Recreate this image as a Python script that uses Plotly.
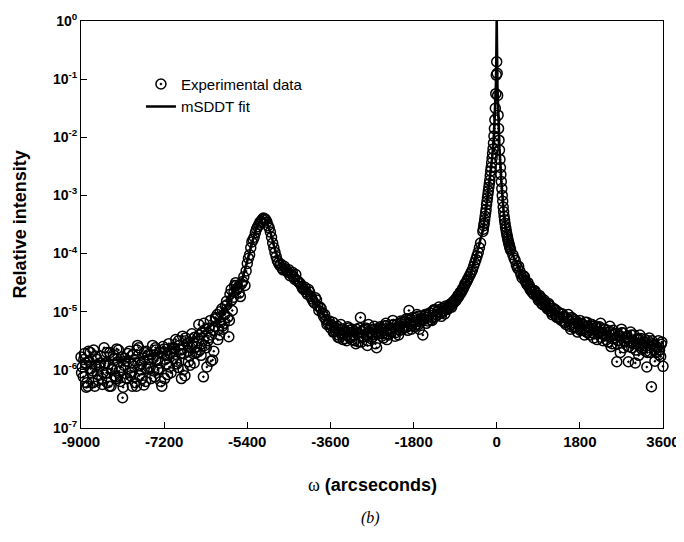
import plotly.graph_objects as go

# ---------------- data ----------------
# experimental omega positions (arcseconds), first interleaved set
omega_exp_a = [
    -9000, -8950, -8900, -8850, -8800, -8750, -8700, -8650, -8600, -8550,
    -8500, -8450, -8400, -8350, -8300, -8250, -8200, -8150, -8100, -8050,
    -8000, -7950, -7900, -7850, -7800, -7750, -7700, -7650, -7600, -7550,
    -7500, -7450, -7400, -7350, -7300, -7250, -7200, -7150, -7100, -7050,
    -7000, -6950, -6900, -6850, -6800, -6750, -6700, -6650, -6600, -6550,
    -6500, -6450, -6400, -6350, -6300, -6250, -6200, -6150, -6100, -6050,
    -6000, -5950, -5900, -5850, -5800, -5750, -5700, -5650, -5600, -5550,
    -5500, -5450, -5400, -5350, -5300, -5250, -5200, -5150, -5100, -5050,
    -5000, -4950, -4900, -4850, -4800, -4750, -4700, -4650, -4600, -4550,
    -4500, -4450, -4400, -4350, -4300, -4250, -4200, -4150, -4100, -4050,
    -4000, -3950, -3900, -3850, -3800, -3750, -3700, -3650, -3600, -3550,
    -3500, -3450, -3400, -3350, -3300, -3250, -3200, -3150, -3100, -3050,
    -3000, -2950, -2900, -2850, -2800, -2750, -2700, -2650, -2600, -2550,
    -2500, -2450, -2400, -2350, -2300, -2250, -2200, -2150, -2100, -2050,
    -2000, -1950, -1900, -1850, -1800, -1750, -1700, -1650, -1600, -1550,
    -1500, -1450, -1400, -1350, -1300, -1250, -1200, -1150, -1100, -1050,
    -1000, -950, -900, -850, -800, -750, -700, -650, -600, -550,
    -500, -450, -400, -350,
    -300, -290, -280, -270, -260, -250, -240, -230, -220, -210,
    -200, -190, -180, -170, -160, -150, -140, -130, -120, -110,
    -100, -90, -80, -70, -60, -50, -40, -30, -20, -10,
    0,
    10, 20, 30, 40, 50, 60, 70, 80, 90, 100,
    110, 120, 130, 140, 150, 160, 170, 180, 190, 200,
    210, 220, 230, 240, 250, 260, 270, 280, 290, 300,
    350, 400, 450, 500, 550, 600, 650, 700, 750, 800,
    850, 900, 950, 1000, 1050, 1100, 1150, 1200, 1250, 1300,
    1350, 1400, 1450, 1500, 1550, 1600, 1650, 1700, 1750, 1800,
    1850, 1900, 1950, 2000, 2050, 2100, 2150, 2200, 2250, 2300,
    2350, 2400, 2450, 2500, 2550, 2600, 2650, 2700, 2750, 2800,
    2850, 2900, 2950, 3000, 3050, 3100, 3150, 3200, 3250, 3300,
    3350, 3400, 3450, 3500, 3550, 3600,
]

# experimental relative intensity (log10 values)
log10_intensity_exp_a = [
    -5.78, -6.12, -5.88, -6.28, -5.70, -6.02, -6.28, -5.82, -5.95, -6.15,
    -5.62, -6.05, -5.90, -6.28, -5.74, -6.12, -5.86, -6.20, -6.48, -5.80,
    -6.15, -5.68, -6.04, -5.94, -6.28, -5.62, -6.00, -5.80, -6.20, -5.74,
    -5.95, -5.58, -6.12, -5.84, -5.70, -6.28, -5.64, -5.90, -5.55, -6.05,
    -5.80, -5.48, -5.96, -5.66, -5.42, -6.10, -5.55, -5.76, -5.38, -5.88,
    -5.60, -5.22, -5.75, -6.12, -5.30, -5.50, -5.15, -5.83, -5.25, -5.05,
    -5.40, -4.95, -5.20, -4.82, -5.43, -4.62, -4.75, -4.50, -4.58, -4.74,
    -4.48, -4.55, -4.17, -4.02, -3.80, -3.72, -3.58, -3.50, -3.44, -3.39,
    -3.42, -3.52, -3.63, -3.82, -3.98, -4.12, -4.20, -4.25, -4.22, -4.30,
    -4.28, -4.35, -4.40, -4.36, -4.48, -4.52, -4.60, -4.58, -4.70, -4.66,
    -4.78, -4.85, -4.80, -4.98, -4.95, -5.08, -5.14, -5.20, -5.28, -5.18,
    -5.32, -5.25, -5.45, -5.30, -5.38, -5.50, -5.28, -5.42, -5.34, -5.55,
    -5.36, -5.10, -5.44, -5.30, -5.58, -5.35, -5.40, -5.25, -5.62, -5.33,
    -5.30, -5.45, -5.20, -5.38, -5.28, -5.15, -5.42, -5.22, -5.32, -5.18,
    -5.25, -5.12, -4.98, -5.30, -5.15, -5.22, -5.08, -5.18, -5.40, -5.05,
    -5.10, -5.02, -5.15, -4.96, -5.05, -4.92, -5.08, -4.98, -4.90, -4.95,
    -4.90, -4.86, -4.82, -4.76, -4.70, -4.64, -4.56, -4.48, -4.40, -4.32,
    -4.22, -4.10, -3.98, -3.82,
    -3.62, -3.58, -3.52, -3.48, -3.42, -3.36, -3.30, -3.24, -3.16, -3.10,
    -3.04, -2.98, -2.92, -2.86, -2.80, -2.74, -2.66, -2.58, -2.52, -2.44,
    -2.36, -2.28, -2.20, -2.10, -1.98, -1.85, -1.70, -1.50, -1.25, -0.93,
    -0.70,
    -0.90, -1.28, -1.62, -1.85, -2.05, -2.22, -2.38, -2.52, -2.64, -2.76,
    -2.88, -3.00, -3.10, -3.20, -3.28, -3.36, -3.42, -3.48, -3.54, -3.58,
    -3.63, -3.67, -3.71, -3.75, -3.79, -3.82, -3.85, -3.88, -3.91, -3.94,
    -4.02, -4.12, -4.25, -4.30, -4.42, -4.40, -4.52, -4.58, -4.62, -4.70,
    -4.68, -4.80, -4.76, -4.88, -4.84, -4.95, -4.90, -5.05, -4.98, -5.10,
    -5.02, -5.15, -5.08, -5.22, -5.05, -5.30, -5.12, -5.20, -5.35, -5.15,
    -5.28, -5.40, -5.18, -5.32, -5.22, -5.45, -5.28, -5.36, -5.20, -5.50,
    -5.30, -5.42, -5.25, -5.55, -5.38, -5.86, -5.40, -5.30, -5.62, -5.45,
    -5.86, -5.35, -5.55, -5.88, -5.48, -5.40, -5.65, -5.52, -5.95, -5.45,
    -6.29, -5.58, -5.70, -5.50, -5.77, -5.94,
]

# second interleaved set of experimental points (wings)
omega_exp_b = [
    -8975, -8925, -8875, -8825, -8775, -8725, -8675, -8625, -8575, -8525,
    -8475, -8425, -8375, -8325, -8275, -8225, -8175, -8125, -8075, -8025,
    -7975, -7925, -7875, -7825, -7775, -7725, -7675, -7625, -7575, -7525,
    -7475, -7425, -7375, -7325, -7275, -7225, -7175, -7125, -7075, -7025,
    -6975, -6925, -6875, -6825, -6775, -6725, -6675, -6625, -6575, -6525,
    -6475, -6425, -6375, -6325, -6275, -6225, -6175, -6125, -6075, -6025,
    -5975, -5925, -5875, -5825, -5775, -5725, -5675, -5625, -5575, -5525,
    -5475, -5425, -5375, -5325, -5275, -5225, -5175, -5125, -5075, -5025,
    -4975, -4925, -4875, -4825, -4775, -4725, -4675, -4625, -4575, -4525,
    -4475, -4425, -4375, -4325, -4275, -4225, -4175, -4125, -4075, -4025,
    -3975, -3925, -3875, -3825, -3775, -3725, -3675, -3625, -3575, -3525,
    -3475, -3425, -3375, -3325, -3275, -3225, -3175, -3125, -3075, -3025,
    -2975, -2925, -2875, -2825, -2775, -2725, -2675, -2625, -2575, -2525,
    -2475, -2425, -2375, -2325, -2275, -2225, -2175, -2125, -2075, -2025,
    -1975, -1925, -1875, -1825, -1775, -1725, -1675, -1625, -1575, -1525,
    -1475, -1425, -1375, -1325, -1275, -1225, -1175, -1125, -1075, -1025,
    -975, -925, -875, -825, -775, -725, -675, -625, -575, -525,
    -475, -425, -375,
    375, 425, 475, 525, 575, 625, 675, 725, 775, 825,
    875, 925, 975, 1025, 1075, 1125, 1175, 1225, 1275, 1325,
    1375, 1425, 1475, 1525, 1575, 1625, 1675, 1725, 1775, 1825,
    1875, 1925, 1975, 2025, 2075, 2125, 2175, 2225, 2275, 2325,
    2375, 2425, 2475, 2525, 2575, 2625, 2675, 2725, 2775, 2825,
    2875, 2925, 2975, 3025, 3075, 3125, 3175, 3225, 3275, 3325,
    3375, 3425, 3475, 3525, 3575,
]
log10_intensity_exp_b = [
    -5.95, -5.72, -6.22, -5.85, -6.05, -5.66, -5.92, -6.18, -5.76, -6.05,
    -5.88, -6.22, -5.70, -5.98, -6.10, -5.64, -6.02, -5.78, -5.92, -6.14,
    -5.86, -6.10, -5.74, -6.22, -5.58, -5.92, -6.15, -5.70, -5.98, -5.82,
    -5.74, -6.02, -5.66, -5.98, -6.20, -5.60, -5.82, -6.08, -5.72, -5.62,
    -5.64, -5.90, -5.58, -6.15, -5.72, -5.50, -5.86, -5.62, -5.52, -5.70,
    -5.45, -5.66, -5.35, -5.58, -5.95, -5.28, -5.40, -5.68, -5.12, -5.30,
    -5.18, -5.30, -4.90, -5.10, -4.70, -4.98, -4.55, -4.62, -4.68, -4.52,
    -4.40, -4.30, -4.08, -3.90, -3.76, -3.64, -3.54, -3.46, -3.41, -3.40,
    -3.46, -3.56, -3.72, -3.90, -4.05, -4.16, -4.18, -4.28, -4.26, -4.32,
    -4.38, -4.32, -4.44, -4.46, -4.50, -4.56, -4.62, -4.66, -4.62, -4.74,
    -4.82, -4.76, -4.90, -4.92, -5.02, -5.05, -5.22, -5.16, -5.24, -5.34,
    -5.28, -5.40, -5.22, -5.48, -5.33, -5.26, -5.45, -5.30, -5.50, -5.38,
    -5.28, -5.52, -5.32, -5.40, -5.22, -5.46, -5.30, -5.55, -5.38, -5.26,
    -5.38, -5.24, -5.48, -5.30, -5.35, -5.22, -5.30, -5.40, -5.16, -5.28,
    -5.18, -5.32, -5.20, -5.10, -5.26, -5.05, -5.30, -5.12, -5.08, -5.20,
    -5.05, -5.14, -4.98, -5.08, -5.00, -5.02, -4.94, -5.04, -4.96, -4.88,
    -4.92, -4.84, -4.80, -4.74, -4.68, -4.60, -4.52, -4.44, -4.36, -4.28,
    -4.16, -4.04, -3.90,
    -4.08, -4.20, -4.22, -4.36, -4.38, -4.48, -4.50, -4.62, -4.66, -4.64,
    -4.74, -4.72, -4.86, -4.80, -4.92, -4.86, -5.00, -4.94, -5.06, -5.00,
    -5.10, -5.04, -5.18, -5.12, -5.25, -5.10, -5.28, -5.16, -5.22, -5.30,
    -5.22, -5.34, -5.26, -5.40, -5.25, -5.32, -5.48, -5.26, -5.38, -5.30,
    -5.48, -5.35, -5.60, -5.32, -5.45, -5.50, -5.70, -5.36, -5.52, -5.42,
    -5.50, -5.62, -5.40, -5.55, -5.75, -5.46, -5.58, -5.68, -5.50, -5.70,
    -5.55, -5.85, -5.62, -5.66, -5.52,
]

# third interleaved set of experimental points (flat wings)
omega_exp_c = [
    -8988, -8938, -8888, -8838, -8788, -8738, -8688, -8638, -8588, -8538,
    -8488, -8438, -8388, -8338, -8288, -8238, -8188, -8138, -8088, -8038,
    -7988, -7938, -7888, -7838, -7788, -7738, -7688, -7638, -7588, -7538,
    -7488, -7438, -7388, -7338, -7288, -7238, -7188, -7138, -7088, -7038,
    -6988, -6938, -6888, -6838, -6788, -6738, -6688, -6638, -6588, -6538,
    -6488, -6438, -6388, -6338, -6288, -6238, -6188, -6138, -6088, -6038,
    -5988, -5938, -5888, -5838, -5788, -5738, -5688, -5638,
    -3588, -3538, -3488, -3438, -3388, -3338, -3288, -3238, -3188, -3138,
    -3088, -3038, -2988, -2938, -2888, -2838, -2788, -2738, -2688, -2638,
    -2588, -2538, -2488, -2438, -2388, -2338, -2288, -2238, -2188, -2138,
    -2088, -2038, -1988, -1938, -1888, -1838, -1788, -1738, -1688, -1638,
    -1588, -1538, -1488, -1438, -1388, -1338, -1288, -1238, -1188, -1138,
    -1088, -1038, -988, -938, -888, -838, -788, -738, -688, -638,
    612, 662, 712, 762, 812, 862, 912, 962, 1012, 1062,
    1112, 1162, 1212, 1262, 1312, 1362, 1412, 1462, 1512, 1562,
    1612, 1662, 1712, 1762, 1812, 1862, 1912, 1962, 2012, 2062,
    2112, 2162, 2212, 2262, 2312, 2362, 2412, 2462, 2512, 2562,
    2612, 2662, 2712, 2762, 2812, 2862, 2912, 2962, 3012, 3062,
    3112, 3162, 3212, 3262, 3312, 3362, 3412, 3462, 3512, 3562,
]
log10_intensity_exp_c = [
    -6.05, -5.82, -6.30, -5.68, -5.98, -6.22, -5.76, -6.08, -5.88, -6.25,
    -5.92, -5.70, -6.28, -6.00, -5.80, -6.15, -5.66, -5.96, -6.30, -5.85,
    -5.72, -6.05, -6.28, -5.84, -5.66, -6.10, -5.90, -6.26, -5.68, -5.96,
    -6.15, -5.80, -5.62, -6.00, -5.88, -5.70, -6.15, -5.75, -5.95, -5.68,
    -5.62, -5.85, -5.50, -5.72, -6.00, -5.45, -5.68, -5.92, -5.58, -5.44,
    -5.70, -5.40, -5.55, -5.20, -5.62, -5.45, -5.85, -5.32, -5.10, -5.48,
    -5.00, -5.25, -5.05, -4.88, -5.15, -4.80, -4.66, -4.55,
    -5.22, -5.35, -5.28, -5.44, -5.36, -5.30, -5.46, -5.40, -5.32, -5.48,
    -5.40, -5.30, -5.52, -5.34, -5.42, -5.28, -5.50, -5.36, -5.44, -5.30,
    -5.35, -5.28, -5.42, -5.32, -5.24, -5.40, -5.30, -5.22, -5.36, -5.26,
    -5.20, -5.30, -5.16, -5.26, -5.12, -5.24, -5.18, -5.10, -5.22, -5.14,
    -5.12, -5.06, -5.16, -5.02, -5.10, -4.98, -5.06, -4.96, -5.02, -4.94,
    -4.96, -4.92, -4.86, -4.82, -4.78, -4.72, -4.66, -4.60, -4.52, -4.46,
    -4.46, -4.54, -4.56, -4.66, -4.64, -4.72, -4.78, -4.76, -4.84, -4.90,
    -4.88, -4.98, -5.02, -4.96, -5.08, -5.12, -5.04, -5.18, -5.10, -5.16,
    -5.22, -5.14, -5.26, -5.20, -5.32, -5.24, -5.18, -5.36, -5.28, -5.22,
    -5.38, -5.26, -5.34, -5.44, -5.30, -5.40, -5.52, -5.34, -5.46, -5.38,
    -5.56, -5.42, -5.36, -5.50, -5.44, -5.60, -5.40, -5.52, -5.66, -5.46,
    -5.54, -5.62, -5.48, -5.70, -5.58, -5.50, -5.66, -5.60, -5.74, -5.56,
]

# mSDDT fit curve
omega_fit = [
    -9000, -8700, -8400, -8100, -7800, -7500, -7200, -7000, -6800, -6600,
    -6400, -6200, -6000, -5900, -5800, -5700, -5600, -5500, -5400, -5300,
    -5200, -5100, -5050, -5000, -4900, -4800, -4700, -4600, -4500, -4400,
    -4200, -4000, -3800, -3600, -3400, -3200, -3000, -2800, -2600, -2400,
    -2200, -2000, -1800, -1600, -1400, -1200, -1000, -800, -600, -400,
    -300, -200, -150, -100, -60, -30, -15, -5, 0, 5,
    15, 30, 60, 100, 150, 200, 300, 400, 600, 800,
    1000, 1300, 1600, 1900, 2200, 2500, 2800, 3100, 3400, 3600,
]
log10_intensity_fit = [
    -5.85, -5.86, -5.84, -5.82, -5.80, -5.76, -5.70, -5.62, -5.55, -5.50,
    -5.38, -5.25, -5.12, -4.98, -4.82, -4.62, -4.55, -4.42, -4.12, -3.78,
    -3.53, -3.41, -3.39, -3.43, -3.63, -3.93, -4.16, -4.26, -4.31, -4.40,
    -4.56, -4.76, -5.00, -5.22, -5.32, -5.36, -5.37, -5.35, -5.32, -5.28,
    -5.24, -5.20, -5.15, -5.10, -5.05, -4.98, -4.86, -4.70, -4.42, -3.90,
    -3.60, -3.04, -2.74, -2.36, -1.98, -1.50, -1.05, -0.40, 0.00, -0.40,
    -1.10, -1.62, -2.20, -2.76, -3.28, -3.58, -3.94, -4.12, -4.40, -4.70,
    -4.86, -5.05, -5.17, -5.25, -5.32, -5.40, -5.46, -5.52, -5.58, -5.62,
]

x_tick_values = [-9000, -7200, -5400, -3600, -1800, 0, 1800, 3600]
y_tick_exponents = [0, -1, -2, -3, -4, -5, -6, -7]

assert len(omega_exp_a) == len(log10_intensity_exp_a)
assert len(omega_exp_b) == len(log10_intensity_exp_b)
assert len(omega_exp_c) == len(log10_intensity_exp_c)
assert len(omega_fit) == len(log10_intensity_fit)

omega_exp = omega_exp_a + omega_exp_b + omega_exp_c
intensity_exp = [10 ** v for v in
                 log10_intensity_exp_a + log10_intensity_exp_b + log10_intensity_exp_c]
intensity_fit = [10 ** v for v in log10_intensity_fit]

SANS = "Liberation Sans, Arial, Helvetica, sans-serif"
SERIF = "Liberation Serif, Times New Roman, serif"

fig = go.Figure()
fig.add_trace(go.Scatter(
    x=omega_exp, y=intensity_exp, mode="markers", name="Experimental data",
    marker=dict(symbol="circle-open-dot", size=10, color="black",
                line=dict(color="black", width=1.5)),
    cliponaxis=False,
))
fig.add_trace(go.Scatter(
    x=omega_fit, y=intensity_fit, mode="lines", name="mSDDT fit",
    line=dict(color="black", width=2.6),
    cliponaxis=False,
))

# the page body adds an 8px offset, so the figure is 8px smaller than the window
fig.update_layout(
    width=676, height=534,
    margin=dict(l=73, r=21, t=13, b=114, autoexpand=False),
    paper_bgcolor="white", plot_bgcolor="white",
    font=dict(family=SANS, color="black"),
    showlegend=True,
    legend=dict(x=0.103, y=0.885, xanchor="left", yanchor="top",
                bgcolor="rgba(0,0,0,0)", font=dict(size=15, family=SANS),
                tracegroupgap=0, itemwidth=30),
    xaxis=dict(
        range=[-9000, 3600], tickmode="array", tickvals=x_tick_values,
        ticktext=[str(v) for v in x_tick_values],
        ticks="inside", ticklen=6, tickcolor="black", tickwidth=1,
        showline=True, linecolor="black", linewidth=1, mirror=True,
        showgrid=False, zeroline=False, automargin=False,
        tickfont=dict(size=15, family=SANS, weight="bold"),
    ),
    yaxis=dict(
        type="log", range=[-7, 0], tickmode="array",
        tickvals=[10 ** e for e in y_tick_exponents],
        ticktext=["10<sup>%d</sup>" % e for e in y_tick_exponents],
        ticks="inside", ticklen=6, tickcolor="black", tickwidth=1,
        showline=True, linecolor="black", linewidth=1, mirror=True,
        showgrid=False, zeroline=False, automargin=False,
        tickfont=dict(size=14, family=SANS, weight="bold"),
    ),
    annotations=[
        dict(text="Relative intensity", xref="paper", yref="paper",
             x=-0.105, y=0.5, textangle=-90, showarrow=False,
             xanchor="center", yanchor="middle",
             font=dict(size=18, family=SANS, weight="bold")),
        dict(text='<span style="font-family:Liberation Serif;font-weight:normal">ω</span> (arcseconds)',
             xref="paper", yref="paper", x=0.5, y=-0.14, showarrow=False,
             xanchor="center", yanchor="middle",
             font=dict(size=18, family=SANS, weight="bold")),
        dict(text="<i>(b)</i>", xref="paper", yref="paper", x=0.498, y=-0.221,
             showarrow=False, xanchor="center", yanchor="middle",
             font=dict(size=16, family=SERIF)),
    ],
)

fig.write_html("out.html")
